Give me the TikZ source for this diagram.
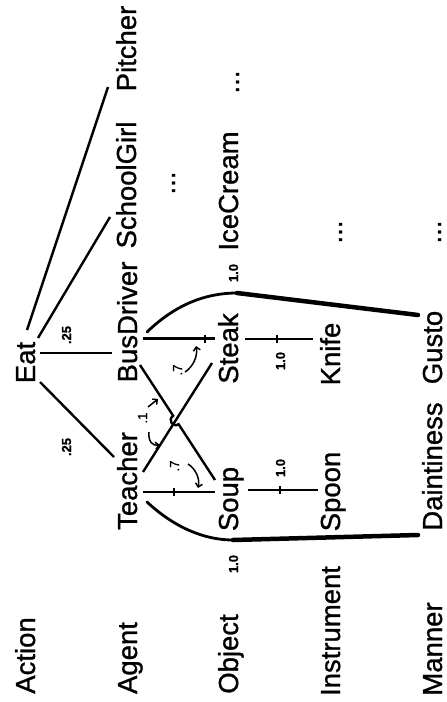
\documentclass[tikz,border=0pt]{standalone}
\usepackage{fontspec}
\setmainfont[FakeBold=1]{Liberation Sans}
\usetikzlibrary{arrows.meta}
\begin{document}
\begin{tikzpicture}[x=1pt,y=-1pt,
  term/.style={rotate=90,anchor=base,inner sep=0pt,font=\fontsize{27.5}{30}\selectfont},
  weight/.style={rotate=90,anchor=base,inner sep=0pt,font=\bfseries\fontsize{13}{15}\selectfont},
  spread/.style={rotate=90,anchor=base,inner sep=0pt,font=\fontsize{13}{15}\selectfont},
  link/.style={line width=2.4pt},
  strong/.style={line width=4.5pt,line cap=round},
  bent/.style={line width=2.8pt,line cap=round},
  tickmark/.style={line width=1.1pt},
  act/.style={line width=1.5pt,-{Straight Barb[length=3.5pt,width=7pt]}},
]
\fill[white] (0,0) rectangle (447,702);
\useasboundingbox (0,0) rectangle (447,702);

% role labels
\node[term] (action)     at (35,655.5) {Action};
\node[term] (agent)      at (137,658)  {Agent};
\node[term] (object)     at (238,654)  {Object};
\node[term] (instrument) at (340,631)  {Instrument};
\node[term] (manner)     at (442,649)  {Manner};

% concepts
\node[term] (eat)        at (35,362.5) {Eat};
\node[term] (teacher)    at (137,481)  {Teacher};
\node[term] (busdriver)  at (137,322)  {BusDriver};
\node[term] (schoolgirl) at (136,185)  {SchoolGirl};
\node[term] (pitcher)    at (136,48.5) {Pitcher};
\node[term] (soup)       at (238,499)  {Soup};
\node[term] (steak)      at (238,348.5){Steak};
\node[term] (icecream)   at (238,191)  {IceCream};
\node[term] (spoon)      at (340,491.5){Spoon};
\node[term] (knife)      at (340,354)  {Knife};
\node[term] (daintiness) at (442,466.5){Daintiness};
\node[term] (gusto)      at (442,347.5){Gusto};

% ellipses
\node[term] (moreA) at (175,183) {...};
\node[term] (moreO) at (239,82)  {...};
\node[term] (moreI) at (342,232) {...};
\node[term] (moreM) at (441,232) {...};

% weights
\node[weight] (wA) at (71,335)  {.25};
\node[weight] (wB) at (71,447)  {.25};
\node[weight] (wC) at (238,273) {1.0};
\node[weight] (wD) at (238,564) {1.0};
\node[weight] (wE) at (285,361) {1.0};
\node[weight] (wF) at (285,468) {1.0};
\node[spread] (sA) at (182,370) {.7};
\node[spread] (sB) at (179,466) {.7};
\node[spread] (sC) at (147,418) {.1};

% links from the action
\draw[link] ([shift={(-8,-32.5)}]eat.base) -- ([shift={(-28,38.5)}]pitcher.base);
\draw[link] ([shift={(3,-24.5)}]eat.base)  -- ([shift={(-26,32)}]schoolgirl.base);
\draw[link] ([shift={(5,-9.5)}]eat.base)   -- ([shift={(-25,31)}]busdriver.base);
\draw[link] ([shift={(5,19.5)}]eat.base)   -- ([shift={(-23,-24)}]teacher.base);

% agent to object links
\draw[link] ([shift={(6,16.5)}]busdriver.base) -- ([shift={(-23,-10)}]steak.base);
\draw[link] ([shift={(6,-9)}]teacher.base) -- ([shift={(-26,14.5)}]steak.base);
\draw[link] ([shift={(3,43)}]busdriver.base) -- (173.2,415.8)
  .. controls (167.3,419.6) and (172.7,428.0) .. (178.6,424.2)
  -- ([shift={(-23,-19)}]soup.base);
\draw[link] ([shift={(6,11)}]teacher.base) -- ([shift={(-23,-7)}]soup.base);

% object to instrument links
\draw[link] ([shift={(7,-9.5)}]steak.base) -- ([shift={(-27,-15)}]knife.base);
\draw[link] ([shift={(10,-9)}]soup.base)   -- ([shift={(-22,-1.5)}]spoon.base);

% small marks on the links
\draw[tickmark] ([shift={(-33,-13.5)}]steak.base) -- ([shift={(-33,-6)}]steak.base);
\draw[tickmark] ([shift={(-64,-11)}]soup.base)  -- ([shift={(-64,-3)}]soup.base);
\draw[tickmark] ([shift={(-63,-19)}]knife.base) -- ([shift={(-63,-11)}]knife.base);
\draw[tickmark] ([shift={(-60,-5.5)}]spoon.base) -- ([shift={(-60,2.5)}]spoon.base);

% manner links
\coordinate (gbend) at (237,293);
\coordinate (dbend) at (233,540);
\draw[bent] ([shift={(10,10)}]busdriver.base) .. controls (175,305) and (205,293) .. (gbend);
\draw[strong] (gbend) -- ([shift={(-24,-32.5)}]gusto.base);
\draw[bent] ([shift={(10,21)}]teacher.base) .. controls (175,528) and (205,540) .. (dbend);
\draw[strong] (dbend) -- ([shift={(-24,68.5)}]daintiness.base);

% influence arrows
\coordinate (tipA) at (196,346);
\coordinate (tipB) at (198,488);
\coordinate (tipC) at (158,399);
\coordinate (tipD) at (160,445);
\draw[act] ([shift={(3,2)}]sA.base) .. controls (193,367) and (198,356) .. (tipA);
\draw[act] ([shift={(9,-2)}]sB.base) .. controls (196,469) and (200,479) .. (tipB);
\draw[act] ([shift={(1,-11)}]sC.base) -- (tipC);
\draw[act] ([shift={(2,14)}]sC.base) .. controls (148,442) and (153,446) .. (tipD);
\end{tikzpicture}
\end{document}
